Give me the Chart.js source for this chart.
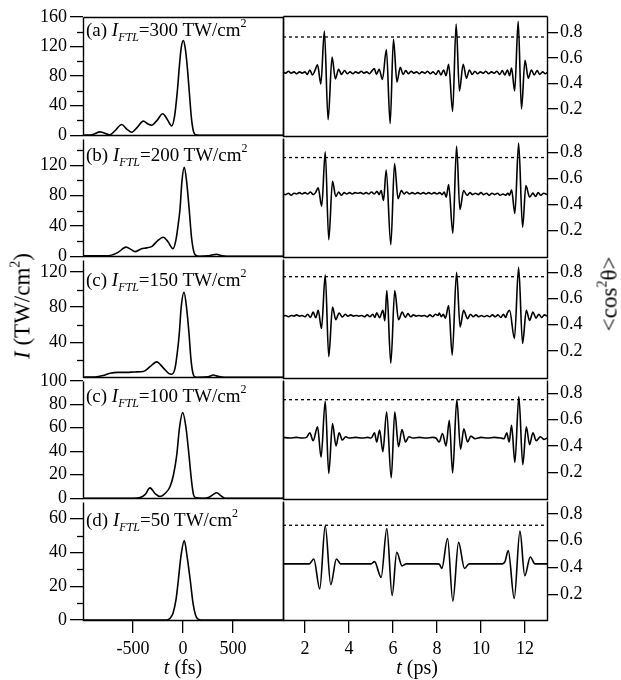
<!DOCTYPE html>
<html lang="en">
<head>
<meta charset="UTF-8" />
<title>Pulse intensity and alignment revivals</title>
<script src="https://cdn.jsdelivr.net/npm/chart.js"></script>
<style>
  * { margin: 0; padding: 0; box-sizing: border-box; }
  body {
    width: 621px; height: 680px; background: #fff; position: relative; overflow: hidden;
    font-family: "Liberation Serif", "DejaVu Serif", serif; color: #000;
  }
  canvas { position: absolute; }
  .lbl { position: absolute; font-size: 19px; line-height: 19px; white-space: nowrap; }
  .lbl sub { font-size: 12px; font-style: italic; vertical-align: -5px; line-height: 0; }
  .lbl sup { font-size: 12px; vertical-align: 9px; line-height: 0; }
  .axt { position: absolute; font-size: 20px; line-height: 20px; white-space: nowrap; }
  .rot { position: absolute; font-size: 23px; line-height: 23px; white-space: nowrap;
         transform: translate(-50%, -50%) rotate(-90deg); }
  .rot sup { font-size: 14px; vertical-align: 10px; line-height: 0; }
</style>
</head>
<body>
<script>
  // ---- data ----
  const intensities = [300, 200, 150, 100, 50];
  const panelTags = ["(a)", "(b)", "(c)", "(c)", "(d)"];

  const fsTicks = [-500, 0, 500];
  const psTicks = [2, 4, 6, 8, 10, 12];
  const cosTicks = [0.2, 0.4, 0.6, 0.8];

  const leftMajor = [[0, 40, 80, 120, 160], [0, 40, 80, 120], [40, 80, 120], [0, 20, 40, 60, 80, 100], [0, 20, 40, 60]];
  const leftMinor = [[20, 60, 100, 140], [20, 60, 100, 140], [20, 60, 100], [], [10, 30, 50]];

  // pulse intensity I (TW/cm2) vs t (fs)
  const pulse300 = [[-1000,0],[-900,1],[-830,4.5],[-733,0.5],[-680,6],[-613,14.5],[-560,8],[-513,4],[-455,11],[-397,19],[-350,15],[-313,13.5],[-260,20],[-203,29],[-160,22],[-113,12.5],[-85,25],[-55,62],[-37,92],[-18,118],[3,128],[22,118],[43,92],[62,60],[85,22],[105,5],[125,0.5],[160,0],[1000,0]];
  const pulse200 = [[-1000,0.5],[-850,0.5],[-730,1],[-650,5],[-570,12],[-520,9],[-480,6],[-420,9.5],[-363,11],[-310,13],[-250,21],[-197,25],[-150,19],[-100,10],[-70,22],[-45,45],[-30,62],[-10,100],[13,117.5],[35,100],[63,60],[85,25],[110,5],[130,1],[160,0],[250,0.5],[300,2],[337,2.5],[380,1],[440,0],[1000,0]];
  const pulse150 = [[-1000,0],[-880,0.3],[-800,2],[-730,4.5],[-650,5.5],[-563,5.5],[-480,6],[-397,6.5],[-330,12],[-263,17.5],[-200,11],[-140,4],[-113,3.3],[-80,10],[-55,30],[-37,50],[-18,80],[10,97],[35,80],[60,50],[80,20],[100,4],[115,0.7],[150,0],[250,0.5],[303,2.5],[350,1],[420,0],[1000,0]];
  const pulse100 = [[-1000,0],[-500,0],[-430,0.5],[-380,3],[-330,8.8],[-280,4],[-230,1.4],[-180,4],[-130,9.7],[-95,20],[-63,36.5],[-35,60],[-3,73],[30,60],[60,36.5],[85,15],[105,3],[125,0.5],[200,0],[253,0.5],[300,3],[337,4.7],[380,2],[420,0],[1000,0]];
  const pulse50 = [[-1000,0],[-160,0],[-130,1],[-100,4],[-70,12],[-47,23.4],[-20,38],[13,47],[40,38],[73,23.4],[100,10],[125,3],[150,0.5],[180,0],[1000,0]];

  // alignment <cos^2 theta> vs t (ps)
  const align300 = [[1.0,0.49],[1.12,0.48],[1.25,0.495],[1.37,0.48],[1.5,0.49],[1.62,0.475],[1.75,0.49],[1.87,0.48],[2.0,0.49],[2.1,0.47],[2.22,0.505],[2.34,0.465],[2.45,0.5],[2.57,0.545],[2.72,0.395],[2.88,0.81],[3.05,0.115],[3.23,0.605],[3.38,0.435],[3.53,0.51],[3.66,0.47],[3.8,0.5],[3.92,0.475],[4.05,0.49],[4.18,0.475],[4.3,0.49],[4.43,0.48],[4.56,0.495],[4.68,0.48],[4.8,0.49],[4.93,0.475],[5.05,0.5],[5.15,0.515],[5.25,0.47],[5.37,0.51],[5.52,0.43],[5.70,0.665],[5.87,0.085],[6.02,0.745],[6.18,0.41],[6.33,0.525],[6.46,0.47],[6.58,0.5],[6.7,0.475],[6.82,0.495],[6.95,0.48],[7.07,0.49],[7.2,0.475],[7.32,0.49],[7.45,0.48],[7.57,0.495],[7.7,0.475],[7.82,0.49],[7.95,0.47],[8.07,0.5],[8.18,0.465],[8.3,0.505],[8.41,0.46],[8.53,0.55],[8.71,0.18],[8.87,0.865],[9.02,0.34],[9.19,0.55],[9.34,0.44],[9.47,0.505],[9.6,0.47],[9.72,0.495],[9.85,0.475],[9.97,0.49],[10.1,0.48],[10.22,0.495],[10.35,0.475],[10.47,0.49],[10.6,0.48],[10.72,0.495],[10.85,0.47],[10.97,0.5],[11.08,0.465],[11.2,0.505],[11.3,0.46],[11.39,0.52],[11.53,0.34],[11.69,0.885],[11.84,0.2],[12.0,0.58],[12.15,0.44],[12.29,0.505],[12.42,0.465],[12.55,0.5],[12.67,0.47],[12.8,0.49],[12.92,0.475],[13.0,0.485]];
  const align200 = [[1.0,0.48],[1.12,0.475],[1.25,0.485],[1.37,0.47],[1.5,0.485],[1.62,0.48],[1.75,0.49],[1.87,0.48],[2.0,0.49],[2.12,0.48],[2.25,0.495],[2.37,0.475],[2.48,0.49],[2.6,0.527],[2.76,0.385],[2.92,0.805],[3.08,0.127],[3.25,0.577],[3.40,0.46],[3.53,0.495],[3.65,0.47],[3.78,0.49],[3.9,0.48],[4.03,0.49],[4.15,0.48],[4.28,0.49],[4.4,0.485],[4.52,0.49],[4.65,0.48],[4.78,0.49],[4.9,0.48],[5.02,0.495],[5.15,0.48],[5.27,0.5],[5.37,0.475],[5.46,0.506],[5.57,0.43],[5.69,0.663],[5.90,0.089],[6.07,0.714],[6.23,0.443],[6.38,0.506],[6.5,0.48],[6.62,0.495],[6.75,0.48],[6.87,0.49],[7.0,0.48],[7.12,0.49],[7.25,0.48],[7.37,0.49],[7.5,0.48],[7.62,0.49],[7.75,0.48],[7.87,0.49],[8.0,0.48],[8.12,0.49],[8.23,0.475],[8.33,0.495],[8.42,0.455],[8.53,0.552],[8.72,0.177],[8.89,0.848],[9.04,0.36],[9.21,0.506],[9.37,0.468],[9.5,0.49],[9.62,0.475],[9.75,0.485],[9.87,0.475],[10.0,0.49],[10.12,0.475],[10.25,0.485],[10.37,0.47],[10.5,0.485],[10.62,0.475],[10.75,0.485],[10.87,0.47],[11.0,0.48],[11.12,0.47],[11.22,0.485],[11.3,0.47],[11.39,0.511],[11.54,0.329],[11.71,0.871],[11.89,0.223],[12.04,0.544],[12.21,0.456],[12.36,0.486],[12.48,0.46],[12.6,0.49],[12.72,0.47],[12.85,0.485],[13.0,0.475]];
  const align150 = [[1.0,0.465],[1.12,0.47],[1.25,0.46],[1.37,0.47],[1.5,0.465],[1.62,0.475],[1.75,0.465],[1.87,0.47],[2.0,0.46],[2.12,0.48],[2.25,0.455],[2.37,0.496],[2.49,0.453],[2.60,0.509],[2.75,0.37],[2.92,0.782],[3.08,0.155],[3.25,0.534],[3.40,0.438],[3.55,0.489],[3.70,0.458],[3.83,0.48],[3.95,0.465],[4.08,0.475],[4.2,0.465],[4.33,0.47],[4.45,0.465],[4.58,0.47],[4.7,0.46],[4.83,0.475],[4.95,0.46],[5.08,0.48],[5.17,0.455],[5.26,0.49],[5.39,0.453],[5.54,0.509],[5.63,0.43],[5.72,0.66],[5.90,0.104],[6.08,0.66],[6.25,0.438],[6.42,0.496],[6.56,0.455],[6.68,0.485],[6.8,0.46],[6.93,0.475],[7.05,0.465],[7.18,0.47],[7.3,0.465],[7.43,0.47],[7.55,0.46],[7.68,0.475],[7.8,0.46],[7.93,0.48],[8.05,0.47],[8.1,0.489],[8.2,0.46],[8.28,0.48],[8.38,0.45],[8.53,0.547],[8.69,0.167],[8.89,0.8],[9.05,0.382],[9.21,0.509],[9.39,0.446],[9.52,0.48],[9.65,0.46],[9.77,0.475],[9.9,0.46],[10.02,0.47],[10.15,0.46],[10.27,0.47],[10.4,0.46],[10.52,0.475],[10.65,0.46],[10.77,0.475],[10.9,0.455],[11.02,0.48],[11.12,0.455],[11.2,0.49],[11.3,0.509],[11.52,0.294],[11.71,0.838],[11.89,0.256],[12.06,0.509],[12.21,0.433],[12.36,0.496],[12.5,0.45],[12.63,0.48],[12.76,0.455],[12.88,0.475],[13.0,0.465]];
  const align100 = [[1.0,0.465],[1.3,0.46],[1.6,0.465],[1.9,0.46],[2.07,0.465],[2.22,0.5],[2.37,0.44],[2.57,0.545],[2.73,0.315],[2.92,0.74],[3.08,0.19],[3.25,0.57],[3.41,0.4],[3.55,0.5],[3.70,0.445],[3.85,0.47],[4.0,0.46],[4.3,0.465],[4.6,0.46],[4.85,0.465],[5.01,0.46],[5.16,0.5],[5.26,0.43],[5.39,0.52],[5.54,0.357],[5.71,0.657],[5.92,0.157],[6.08,0.657],[6.25,0.395],[6.41,0.525],[6.57,0.43],[6.72,0.47],[6.9,0.46],[7.2,0.465],[7.5,0.46],[7.8,0.465],[7.95,0.46],[8.10,0.43],[8.25,0.495],[8.41,0.4],[8.56,0.595],[8.71,0.195],[8.90,0.75],[9.07,0.375],[9.22,0.53],[9.39,0.43],[9.54,0.475],[9.73,0.455],[10.0,0.465],[10.3,0.46],[10.6,0.465],[10.9,0.46],[11.05,0.455],[11.17,0.5],[11.28,0.43],[11.39,0.557],[11.54,0.275],[11.72,0.775],[11.90,0.257],[12.06,0.545],[12.21,0.41],[12.36,0.5],[12.51,0.44],[12.7,0.47],[12.86,0.45],[13.0,0.46]];
  const align50 = [[1.0,0.427],[2.2,0.427],[2.40,0.464],[2.67,0.24],[2.92,0.711],[3.17,0.272],[3.43,0.464],[3.62,0.427],[5.0,0.427],[5.16,0.444],[5.46,0.326],[5.72,0.691],[5.96,0.19],[6.17,0.514],[6.41,0.412],[6.6,0.427],[7.95,0.427],[8.10,0.425],[8.22,0.393],[8.48,0.617],[8.72,0.148],[8.98,0.588],[9.25,0.393],[9.46,0.427],[10.97,0.427],[11.09,0.444],[11.24,0.526],[11.51,0.168],[11.77,0.672],[11.99,0.338],[12.24,0.479],[12.45,0.427],[13.0,0.427]];

  // maximum alignment level (dashed reference)
  const cosPeak = [0.763, 0.76, 0.767, 0.752, 0.716];

  const pulses = [pulse300, pulse200, pulse150, pulse100, pulse50];
  const aligns = [align300, align200, align150, align100, align50];

  // ---- layout ----
  const rowTop = [15, 137, 258, 379, 500];
  const rowBot = [137, 258, 379, 500, 620];
  const leftMax = [160, 155, 134, 100, 70];
  const rightRange = [[-0.014, 0.929], [-0.007, 0.912], [-0.01, 0.904], [-0.005, 0.903], [0.007, 0.899]];
  const labelBase = [36, 161, 286, 402, 526];

  const FONT = { family: "'Liberation Serif', serif", size: 18 };
  const PAD = 12;

  function makeCanvas(left, top, w, h) {
    const c = document.createElement("canvas");
    c.width = w; c.height = h;
    c.style.left = left + "px"; c.style.top = top + "px";
    c.style.width = w + "px"; c.style.height = h + "px";
    document.body.appendChild(c);
    return c;
  }

  // box around the plot area; rows below the first reuse the bottom edge of the row above
  function framePlugin(withTop) {
    return {
      id: "frame",
      afterDatasetsDraw(chart) {
        const a = chart.chartArea, ctx = chart.ctx;
        const l = Math.round(a.left) + 0.5, r = Math.round(a.right) + 0.5;
        const t = Math.round(a.top) + 0.5, b = Math.round(a.bottom) + 0.5;
        ctx.save();
        ctx.strokeStyle = "#000";
        ctx.lineWidth = 1.4;
        ctx.beginPath();
        if (withTop) { ctx.moveTo(l, t); ctx.lineTo(r, t); }
        ctx.moveTo(l, t); ctx.lineTo(l, b); ctx.lineTo(r, b); ctx.lineTo(r, t);
        ctx.stroke();
        ctx.restore();
      }
    };
  }

  function minorTicks(values) {
    return {
      id: "minorTicks",
      afterDraw(chart) {
        const s = chart.scales.y, ctx = chart.ctx, x = chart.chartArea.left;
        ctx.save();
        ctx.strokeStyle = "#000";
        ctx.lineWidth = 1.3;
        values.forEach(v => {
          const y = Math.round(s.getPixelForValue(v)) + 0.5;
          ctx.beginPath();
          ctx.moveTo(x - 6, y);
          ctx.lineTo(x, y);
          ctx.stroke();
        });
        ctx.restore();
      }
    };
  }

  const setTicks = vals => s => { s.ticks = vals.map(v => ({ value: v })); };

  function axisGrid(len) {
    return { drawOnChartArea: false, tickLength: len, color: "#000", lineWidth: 1.3 };
  }

  function tickFont(extra) {
    return Object.assign({ color: "#000", font: FONT, autoSkip: false, maxRotation: 0 }, extra);
  }

  function baseOptions(padding) {
    return {
      responsive: false,
      maintainAspectRatio: false,
      animation: false,
      events: [],
      layout: { padding },
      plugins: { legend: { display: false }, tooltip: { enabled: false } },
      elements: { point: { radius: 0 } }
    };
  }

  // bottom row carries the time axis; the rows above have none
  function xAxis(min, max, ticks, shown) {
    const ax = {
      type: "linear", min, max, display: shown,
      afterBuildTicks: setTicks(ticks),
      grid: axisGrid(13), border: { display: false },
      ticks: tickFont({ padding: 5 })
    };
    if (shown) ax.afterFit = s => { s.height = 60; };
    return ax;
  }

  function leftChart(i) {
    const last = i === 4;
    const h = rowBot[i] - rowTop[i] + PAD + (last ? 60 : PAD);
    const cv = makeCanvas(0, rowTop[i] - PAD, 290, h);
    const opts = baseOptions({ top: PAD, bottom: last ? 0 : PAD, left: 0, right: 7 });
    opts.scales = {
      x: xAxis(-1000, 1000, fsTicks, last),
      y: {
        type: "linear", min: 0, max: leftMax[i],
        afterBuildTicks: setTicks(leftMajor[i]),
        afterFit: s => { s.width = 83; },
        grid: axisGrid(13), border: { display: false },
        ticks: tickFont({ padding: 3 })
      }
    };
    new Chart(cv, {
      type: "line",
      data: {
        datasets: [{
          data: pulses[i], borderColor: "#000", borderWidth: 1.6,
          cubicInterpolationMode: "monotone", fill: false
        }]
      },
      options: opts,
      plugins: [framePlugin(i === 0), minorTicks(leftMinor[i])]
    });
  }

  function rightChart(i) {
    const last = i === 4;
    const h = rowBot[i] - rowTop[i] + PAD + (last ? 60 : PAD);
    const cv = makeCanvas(276, rowTop[i] - PAD, 345, h);
    const opts = baseOptions({ top: PAD, bottom: last ? 0 : PAD, left: 7, right: 0 });
    opts.scales = {
      x: xAxis(1, 13, psTicks, last),
      y: {
        type: "linear", position: "right", min: rightRange[i][0], max: rightRange[i][1],
        afterBuildTicks: setTicks(cosTicks),
        afterFit: s => { s.width = 74; },
        grid: axisGrid(11), border: { display: false },
        ticks: tickFont({ padding: 2, callback: v => v.toFixed(1) })
      }
    };
    new Chart(cv, {
      type: "line",
      data: {
        datasets: [
          {
            data: aligns[i], borderColor: "#000", borderWidth: 1.6,
            cubicInterpolationMode: "monotone", fill: false
          },
          {
            data: [[1, cosPeak[i]], [13, cosPeak[i]]], borderColor: "#000",
            borderWidth: 1.3, borderDash: [3, 3], fill: false
          }
        ]
      },
      options: opts,
      plugins: [framePlugin(i === 0)]
    });
  }

  for (let i = 0; i < 5; i++) {
    leftChart(i);
    rightChart(i);
  }

  // ---- text ----
  function addText(cls, html, style) {
    const d = document.createElement("div");
    d.className = cls;
    d.innerHTML = html;
    Object.assign(d.style, style);
    document.body.appendChild(d);
    return d;
  }

  intensities.forEach((val, i) => {
    addText("lbl", `${panelTags[i]} <i>I</i><sub>FTL</sub>=${val} TW/cm<sup>2</sup>`,
      { left: "86px", top: (labelBase[i] - 16) + "px" });
  });

  addText("axt", "<i>t</i> (fs)", { left: "183px", top: "657px", transform: "translateX(-50%)" });
  addText("axt", "<i>t</i> (ps)", { left: "417px", top: "657px", transform: "translateX(-50%)" });
  addText("rot", "<i>I</i> (TW/cm<sup>2</sup>)", { left: "22px", top: "306px" });
  addText("rot", "&lt;cos<sup>2</sup>θ&gt;", { left: "609px", top: "294px" });
</script>
</body>
</html>
